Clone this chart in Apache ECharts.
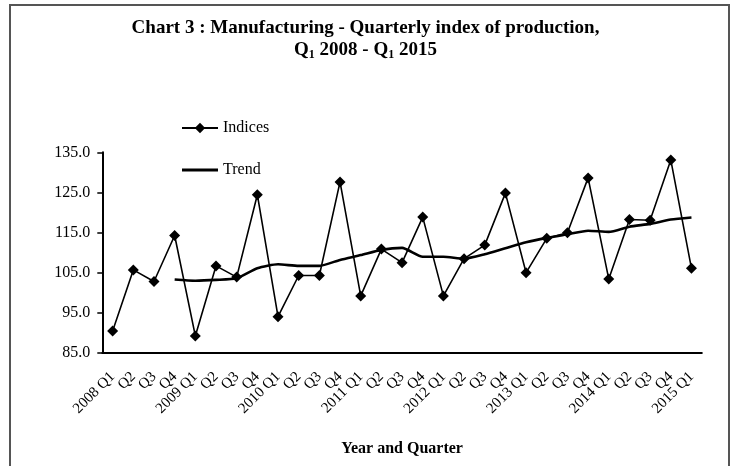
<!DOCTYPE html>
<html>
<head>
<meta charset="utf-8">
<script src="https://cdn.jsdelivr.net/npm/echarts@6/dist/echarts.min.js"></script>
<style>
  html, body { margin: 0; padding: 0; background: #fff; }
  #chart { width: 731px; height: 466px; }
</style>
</head>
<body>
<div id="chart"></div>
<script>
// Quarter labels, 2008 Q1 .. 2015 Q1
const years = ['2008', '2009', '2010', '2011', '2012', '2013', '2014', '2015'];
const quarters = [];
years.forEach((y) => {
  ['Q1', 'Q2', 'Q3', 'Q4'].forEach((q) => {
    if (y === '2015' && q !== 'Q1') return;
    quarters.push(q === 'Q1' ? y + ' ' + q : q);
  });
});

const indices = [
  90.3, 105.6, 102.7, 114.2,
  89.1, 106.6, 103.8, 124.4,
  93.9, 104.2, 104.2, 127.6,
  99.1, 110.8, 107.4, 118.8,
  99.1, 108.4, 111.8, 124.8,
  104.9, 113.5, 114.9, 128.6,
  103.3, 118.2, 118.0, 133.1,
  106.0,
];

const trend = [
  null, null, null, 103.2,
  102.9, 103.1, 103.5, 106.0,
  107.0, 106.6, 106.6, 108.1,
  109.3, 110.6, 111.1, 108.9,
  108.9, 108.4, 109.5, 111.0,
  112.5, 113.6, 114.5, 115.4,
  115.1, 116.4, 117.1, 118.2,
  118.7,
];

const serif = 'Liberation Serif, Times New Roman, serif';

const chart = echarts.init(document.getElementById('chart'));

chart.setOption({
  animation: false,
  backgroundColor: '#fff',
  textStyle: { fontFamily: serif, color: '#000' },
  graphic: [
    {
      type: 'rect',
      shape: { x: 10, y: 5, width: 719, height: 480 },
      style: { fill: 'none', stroke: '#555', lineWidth: 2 },
      silent: true,
    },
  ],
  title: {
    left: 'center',
    top: 12,
    text: 'Chart 3 : Manufacturing - Quarterly index of production,\nQ{s|1} 2008 - Q{s|1} 2015',
    textStyle: {
      fontFamily: serif,
      fontWeight: 'bold',
      fontSize: 19,
      lineHeight: 22,
      color: '#000',
      rich: {
        s: {
          fontFamily: serif,
          fontWeight: 'bold',
          fontSize: 12,
          verticalAlign: 'bottom',
          padding: [6, 0, 0, 0],
        },
      },
    },
  },
  legend: {
    orient: 'vertical',
    left: 176,
    top: 115,
    itemWidth: 36,
    itemHeight: 13,
    itemGap: 26,
    selectedMode: false,
    textStyle: { fontFamily: serif, fontSize: 16, color: '#000' },
    data: [
      { name: 'Indices' },
      { name: 'Trend', icon: 'path://M0,0H36V3H0Z' },
    ],
  },
  grid: {
    left: 102.3,
    right: 29.2,
    top: 152.3,
    bottom: 113.7,
    containLabel: false,
  },
  xAxis: {
    type: 'category',
    data: quarters,
    boundaryGap: true,
    name: 'Year and Quarter',
    nameLocation: 'middle',
    nameGap: 89,
    nameTextStyle: { fontFamily: serif, fontSize: 16, fontWeight: 'bold', color: '#000' },
    axisLine: { lineStyle: { color: '#000', width: 2 } },
    axisTick: { alignWithLabel: false, length: 5, lineStyle: { color: '#000', width: 1.5 } },
    axisLabel: {
      rotate: 45,
      interval: 0,
      margin: 22,
      fontFamily: serif,
      fontSize: 15,
      color: '#000',
    },
    splitLine: { show: false },
  },
  yAxis: {
    type: 'value',
    min: 85,
    max: 135,
    interval: 10,
    axisLine: { show: true, lineStyle: { color: '#000', width: 2 } },
    axisTick: { show: true, length: 5, lineStyle: { color: '#000', width: 1.5 } },
    axisLabel: {
      margin: 12,
      fontFamily: serif,
      fontSize: 16,
      color: '#000',
      formatter: (v) => v.toFixed(1),
    },
    splitLine: { show: false },
  },
  series: [
    {
      name: 'Indices',
      type: 'line',
      data: indices,
      symbol: 'diamond',
      symbolSize: 11,
      itemStyle: { color: '#000' },
      lineStyle: { color: '#000', width: 1.6 },
      z: 3,
    },
    {
      name: 'Trend',
      type: 'line',
      data: trend,
      symbol: 'none',
      smooth: 0.2,
      itemStyle: { color: '#000' },
      lineStyle: { color: '#000', width: 2.6 },
      z: 2,
    },
  ],
});
</script>
</body>
</html>
